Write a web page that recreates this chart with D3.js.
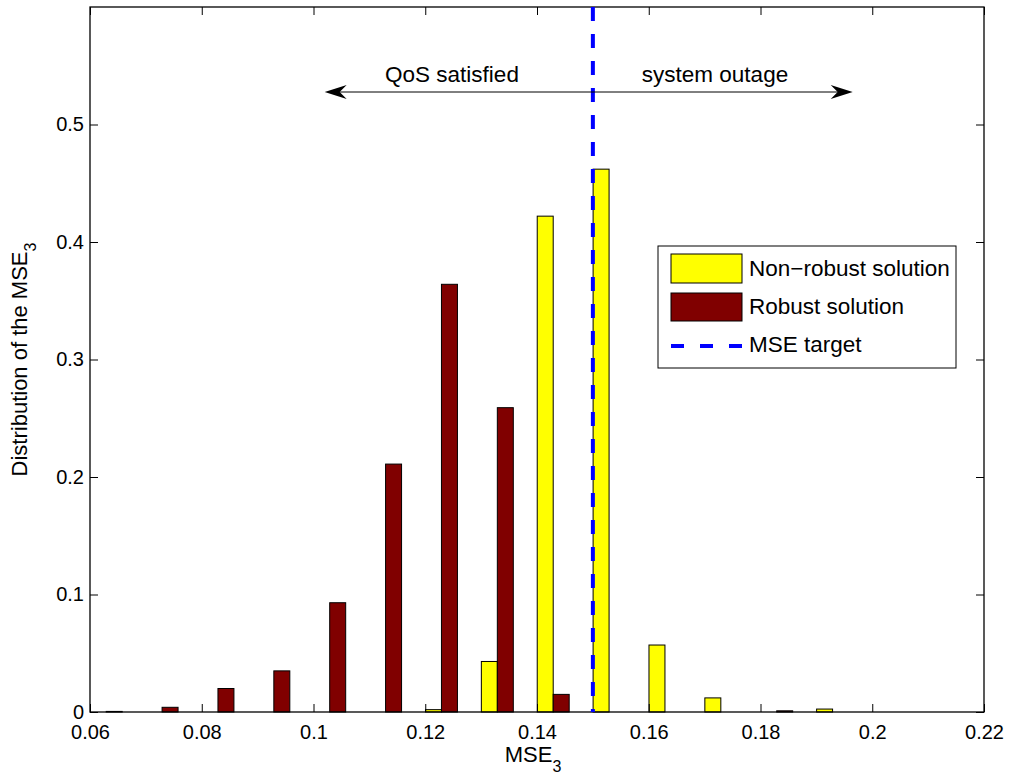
<!DOCTYPE html>
<html>
<head>
<meta charset="utf-8">
<script src="https://cdn.jsdelivr.net/npm/d3@7"></script>
<style>
  body { margin: 0; background: #fff; }
  text { font-family: "Liberation Sans", Arial, sans-serif; }
</style>
</head>
<body>
<script>
// bin centres of the histogram
const binCenters = [0.0629, 0.0729, 0.0829, 0.0929, 0.1029, 0.1129, 0.1229, 0.1329,
                    0.1429, 0.1529, 0.1629, 0.1729, 0.1829, 0.1929, 0.2029, 0.2129]
const nonRobust = [0, 0, 0, 0, 0, 0, 0.002, 0.043,
                   0.422, 0.462, 0.057, 0.012, 0, 0.0025, 0, 0]
const robust = [0.0005, 0.004, 0.020, 0.035, 0.093, 0.211, 0.364, 0.259,
                0.015, 0, 0, 0, 0.001, 0, 0, 0]
const xTicks = [0.06, 0.08, 0.1, 0.12, 0.14, 0.16, 0.18, 0.2, 0.22]
const yTicks = [0, 0.1, 0.2, 0.3, 0.4, 0.5]
const mseTarget = 0.15
const arrowLeft = 0.102
const arrowRight = 0.1965
const legendItems = ["Non\u2212robust solution", "Robust solution", "MSE target"]

const width = 1010
const height = 776
const margin = {top: 7, right: 26, bottom: 64, left: 90}

const x = d3.scaleLinear()
    .domain([0.06, 0.22])
    .range([margin.left, width - margin.right])

const y = d3.scaleLinear()
    .domain([0, 0.6])
    .range([height - margin.bottom, margin.top])

const svg = d3.select("body").append("svg")
    .attr("width", width)
    .attr("height", height)
    .attr("font-size", 22)

svg.append("rect").attr("width", width).attr("height", height).attr("fill", "#fff")

const barW = x(0.06286) - x(0.06)

// yellow bars sit left of the bin centre, red ones to the right
const bars = [
    {vals: nonRobust, color: "#ffff00", off: -1},
    {vals: robust, color: "#800000", off: 0}
]
bars.forEach(s => {
    svg.append("g").selectAll("rect")
      .data(binCenters.map((c, i) => ({c, v: s.vals[i]})))
      .enter()
      .append("rect")
        .attr("x", d => x(d.c) + s.off * barW)
        .attr("y", d => y(d.v))
        .attr("width", barW)
        .attr("height", d => y(0) - y(d.v))
        .attr("fill", s.color)
        .attr("stroke", "#000")
        .attr("stroke-width", 1)
})

// axes (MATLAB style: ticks inside, box on)
const tickLen = 8
const xb = svg.append("g").attr("transform", `translate(0,${y(0)})`)
    .call(d3.axisBottom(x).tickValues(xTicks).tickSize(-tickLen).tickFormat(d3.format("")))
const xt = svg.append("g").attr("transform", `translate(0,${y(0.6)})`)
    .call(d3.axisTop(x).tickValues(xTicks).tickSize(-tickLen).tickFormat(""))
const yl = svg.append("g").attr("transform", `translate(${x(0.06)},0)`)
    .call(d3.axisLeft(y).tickValues(yTicks).tickSize(-tickLen).tickFormat(d3.format("")))
const yr = svg.append("g").attr("transform", `translate(${x(0.22)},0)`)
    .call(d3.axisRight(y).tickValues(yTicks).tickSize(-tickLen).tickFormat(""))

;[xb, xt, yl, yr].forEach(g => {
    g.select(".domain").remove()
    g.selectAll("line").attr("stroke", "#000")
    g.selectAll("text").attr("font-size", 20).attr("fill", "#000")
        .attr("font-family", "'Liberation Sans', Arial, sans-serif")
})
xb.selectAll("text").attr("y", 13).attr("dy", "0.71em")
yl.selectAll("text").attr("x", -6).attr("dy", "0.32em")

svg.append("rect")
    .attr("x", x(0.06)).attr("y", y(0.6))
    .attr("width", x(0.22) - x(0.06)).attr("height", y(0) - y(0.6))
    .attr("fill", "none").attr("stroke", "#000").attr("stroke-width", 1.3)

// MSE target line
svg.append("line")
    .attr("x1", x(mseTarget)).attr("x2", x(mseTarget))
    .attr("y1", y(0.6)).attr("y2", y(0))
    .attr("stroke", "#0000ff").attr("stroke-width", 4)
    .attr("stroke-dasharray", "14,13")

// arrows
const arrowY = 92
const head = (tip, dir) => {
    const L = 22, W = 7, back = 15
    return `M${tip},${arrowY} L${tip + dir * L},${arrowY - W} L${tip + dir * back},${arrowY} L${tip + dir * L},${arrowY + W} Z`
}
svg.append("line")
    .attr("x1", x(arrowLeft) + 5).attr("x2", x(arrowRight) - 5)
    .attr("y1", arrowY).attr("y2", arrowY)
    .attr("stroke", "#000").attr("stroke-width", 1)
svg.append("path").attr("d", head(x(arrowLeft), 1)).attr("fill", "#000")
svg.append("path").attr("d", head(x(arrowRight), -1)).attr("fill", "#000")

svg.append("text").attr("x", 452).attr("y", 82).attr("font-size", 22.5)
    .attr("text-anchor", "middle").text("QoS satisfied")
svg.append("text").attr("x", 715).attr("y", 82).attr("font-size", 22.5)
    .attr("text-anchor", "middle").text("system outage")

// axis labels
const xl = svg.append("text").attr("x", x(0.14) - 4).attr("y", 762).attr("text-anchor", "middle")
xl.append("tspan").text("MSE")
xl.append("tspan").attr("dy", 10).attr("font-size", 16).text("3")

const ylab = svg.append("text")
    .attr("transform", `translate(27,${(y(0) + y(0.6)) / 2}) rotate(-90)`)
    .attr("text-anchor", "middle")
ylab.append("tspan").text("Distribution of the MSE")
ylab.append("tspan").attr("dy", 9).attr("font-size", 16).text("3")

// legend
const lg = svg.append("g")
lg.append("rect")
    .attr("x", 658).attr("y", 246).attr("width", 298).attr("height", 122)
    .attr("fill", "#fff").attr("stroke", "#000").attr("stroke-width", 1)
lg.append("rect").attr("x", 671).attr("y", 254).attr("width", 71).attr("height", 29)
    .attr("fill", "#ffff00").attr("stroke", "#000")
lg.append("rect").attr("x", 671).attr("y", 293).attr("width", 71).attr("height", 28)
    .attr("fill", "#800000").attr("stroke", "#000")
lg.append("line").attr("x1", 671).attr("x2", 742).attr("y1", 346).attr("y2", 346)
    .attr("stroke", "#0000ff").attr("stroke-width", 4).attr("stroke-dasharray", "13,16")
lg.selectAll("text.item")
  .data(legendItems)
  .enter()
  .append("text")
    .attr("class", "item")
    .attr("x", 749)
    .attr("y", (d, i) => 276 + i * 38)
    .attr("font-size", 22.5)
    .text(d => d)
</script>
</body>
</html>
